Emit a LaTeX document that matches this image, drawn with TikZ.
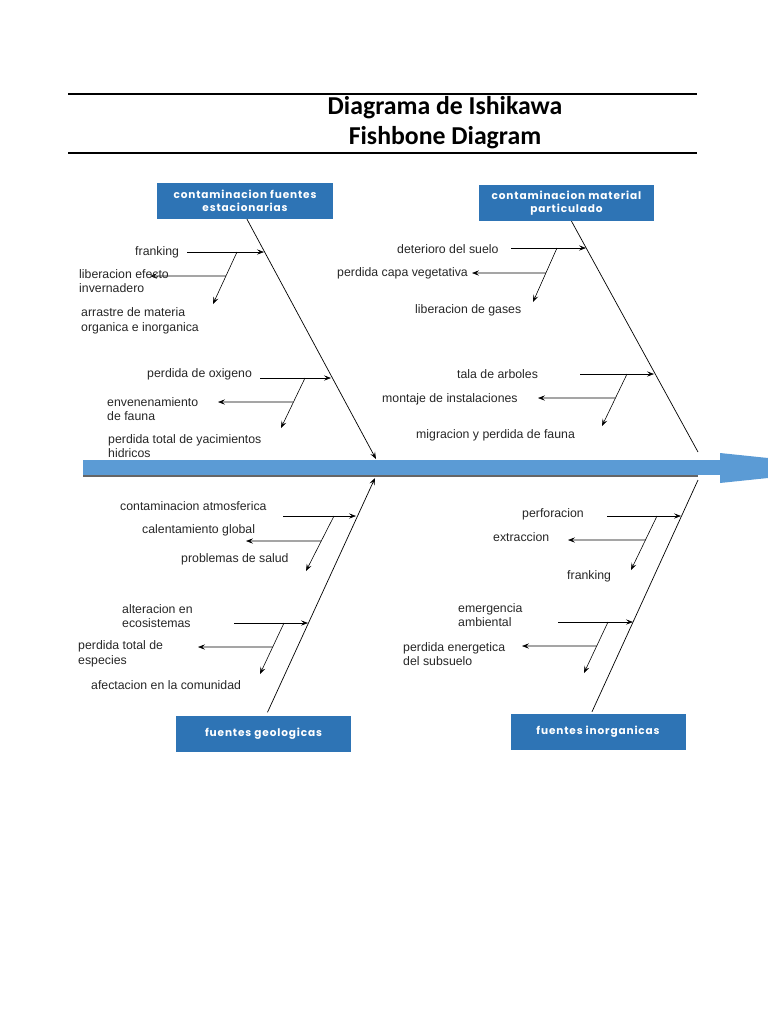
\documentclass[tikz,border=0pt]{standalone}
\usepackage{fontspec}
\setmainfont{Liberation Sans}
\newfontfamily\titlefont{Carlito}
\newfontfamily\boxfont[LetterSpace=8]{Poppins}
\usetikzlibrary{arrows.meta,calc}
\definecolor{boxblue}{HTML}{2E74B5}
\definecolor{spineblue}{HTML}{5B9BD5}

\begin{document}
\begin{tikzpicture}[x=0.03cm,y=-0.03cm,
  cause/.style={fill=boxblue,text=white,inner sep=0pt,align=center,
    minimum width=5.25cm,minimum height=1.08cm,
    font=\boxfont\bfseries\fontsize{9}{11}\selectfont},
  item/.style={anchor=west,inner sep=0pt,align=left,text=black!85,
    font=\fontsize{10.5}{12.5}\selectfont},
  bone/.style={line width=0.6pt,-{Stealth[length=6pt,width=4.5pt,inset=2.5pt]}},
  twig/.style={line width=0.5pt,-{Stealth[length=6pt,width=4.5pt,inset=2.5pt]}}]
  \useasboundingbox (0,0) rectangle (768,1024);

  % Title and rules
  \draw[line width=0.9pt] (68,94) -- (697,94);
  \draw[line width=0.9pt] (68,153) -- (697,153);
  \node[font=\titlefont\bfseries\fontsize{22}{25.5}\selectfont,align=center]
    (title) at (445,123) {Diagrama de Ishikawa\\Fishbone Diagram};

  % Spine
  \begin{scope}
    \clip (0,0) rectangle (768,1024);
    \fill[spineblue] (83,460) rectangle (721,475);
    \fill[spineblue] (720,453) -- (864,468) -- (720,483) -- cycle;
  \end{scope}
  \draw[black!60,line width=0.9pt] (83,476) -- (698,476);
  \coordinate (sp1) at (376,459);
  \coordinate (sp2) at (698,452);
  \coordinate (sp3) at (375,478);
  \coordinate (sp4) at (698,480);

  % Cause boxes
  \node[cause] (cfe) at (245,201) {contaminacion fuentes\\estacionarias};
  \node[cause] (cmp) at (566.5,203) {contaminacion material\\particulado};
  \node[cause] (fgeo) at (263.5,733.5) {fuentes geologicas};
  \node[cause] (finorg) at (598,732) {fuentes inorganicas};

  % Main bones
  \draw[bone] ($(cfe.south)+(2,0)$) -- (sp1);
  \draw[line width=0.6pt] ($(cmp.south)+(5,0)$) -- (sp2);
  \draw[bone] ($(fgeo.north)+(4,-3)$) -- (sp3);
  \draw[line width=0.6pt] ($(finorg.north)+(-6,-2)$) -- (sp4);

  % Branches: shaft y / tail x / bone x / fork x / tip x,y / knee y / out x
  \foreach \n/\y/\tx/\px/\dx/\ex/\ey/\hy/\lx in {
      1/252/187/264/237/213/304/276/150,
      2/378/260/331/305/281/428/402/218,
      3/248/511/586/557/533/302/273/472,
      4/374/580/654/627/602/426/398/538,
      5/516/283/356/334/306/571/541/246,
      6/623/234/308/284/260/674/647/198,
      7/516/607/681/657/631/570/540/568,
      8/622/558/633/608/584/673/646/522} {
    \pgfmathsetmacro\f{(\hy-\y)/(\ey-\y)}
    \coordinate (tail\n) at (\tx,\y);
    \coordinate (on\n) at (\px,\y);
    \coordinate (fork\n) at (\dx,\y);
    \coordinate (tip\n) at (\ex,\ey);
    \coordinate (knee\n) at ($(fork\n)!\f!(tip\n)$);
    \coordinate (out\n) at (\lx,\hy);
    \draw[twig] (tail\n) -- (on\n);
    \draw[twig] (fork\n) -- (tip\n);
    \draw[twig] (knee\n) -- (out\n);
  }

  % Labels, upper left
  \node[item] (frk1) at (135,252) {franking};
  \node[item] (lei) at (79,281) {liberacion efecto\\invernadero};
  \node[item] (arm) at (81,321) {arrastre de materia\\organica e inorganica};
  \node[item] (pdo) at (147,374) {perdida de oxigeno};
  \node[item] (env) at (107,409) {envenenamiento\\de fauna};
  \node[item] (pty) at (108,446) {perdida total de yacimientos\\hidricos};
  % Labels, upper right
  \node[item] (dds) at (397,249) {deterioro del suelo};
  \node[item] (pcv) at (337,273) {perdida capa vegetativa};
  \node[item] (ldg) at (415,310) {liberacion de gases};
  \node[item] (tda) at (457,374) {tala de arboles};
  \node[item] (mdi) at (382,399) {montaje de instalaciones};
  \node[item] (mpf) at (416,435) {migracion y perdida de fauna};
  % Labels, lower left
  \node[item] (cat) at (120,506) {contaminacion atmosferica};
  \node[item] (cgl) at (142,530) {calentamiento global};
  \node[item] (pds) at (181,559) {problemas de salud};
  \node[item] (aec) at (122,616) {alteracion en\\ecosistemas};
  \node[item] (pte) at (78,654) {perdida total de\\especies};
  \node[item] (aco) at (91,685) {afectacion en la comunidad};
  % Labels, lower right
  \node[item] (per) at (522,514) {perforacion};
  \node[item] (ext) at (493,537) {extraccion};
  \node[item] (frk2) at (567,576) {franking};
  \node[item] (ema) at (458,615) {emergencia\\ambiental};
  \node[item] (pes) at (403,654) {perdida energetica\\del subsuelo};
\end{tikzpicture}
\end{document}
